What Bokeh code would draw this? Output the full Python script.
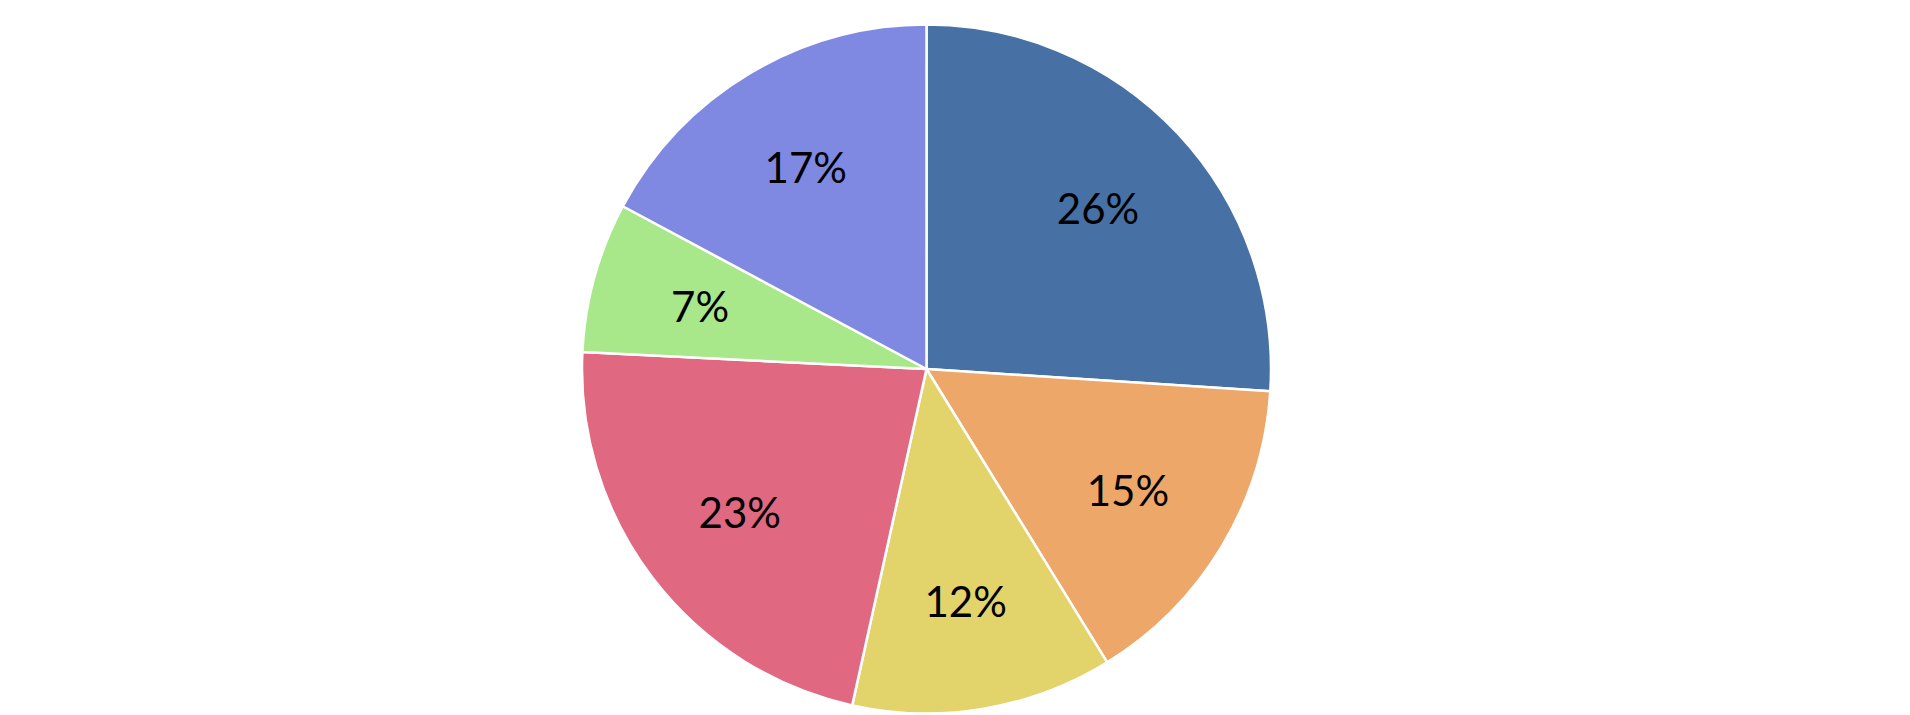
import math
from bokeh.plotting import figure
from bokeh.models import ColumnDataSource, Range1d
from bokeh.core.properties import value
from bokeh.embed import file_html
from bokeh.resources import INLINE

# data (clockwise from 12 o'clock)
shares = [26.03, 15.18, 12.25, 22.32, 7.05, 17.17]
labels = ["26%", "15%", "12%", "23%", "7%", "17%"]
colors = ["#4770a5", "#eda769", "#e2d36b", "#e06880", "#a8e88a", "#8089e2"]

W, H = 1900, 715
CX, CY, R = 926, H - 368.5, 344.5
LABEL_R = 235

total = sum(shares)
starts, ends, lx, ly = [], [], [], []
cum = 0.0
for s in shares:
    a0 = math.pi / 2 - 2 * math.pi * cum / total
    cum += s
    a1 = math.pi / 2 - 2 * math.pi * cum / total
    starts.append(a0)
    ends.append(a1)
    mid = (a0 + a1) / 2
    lx.append(CX + LABEL_R * math.cos(mid))
    ly.append(CY + LABEL_R * math.sin(mid))

src = ColumnDataSource(dict(start=starts, end=ends, color=colors, label=labels, lx=lx, ly=ly))

p = figure(width=W, height=H, output_backend="svg", toolbar_location=None,
           x_range=Range1d(0, W), y_range=Range1d(0, H), min_border=0)
p.axis.visible = False
p.grid.visible = False
p.outline_line_color = None
p.background_fill_color = "white"

p.wedge(x=CX, y=CY, radius=R, start_angle="start", end_angle="end", direction="clock",
        fill_color="color", line_color="white", line_width=2.5, source=src)
p.text(x="lx", y="ly", text="label", source=src, text_align="center", text_baseline="middle",
       text_font=value("Lato"), text_font_size="42px", text_color="#000000")

open("out.html", "w").write(file_html(p, INLINE))
